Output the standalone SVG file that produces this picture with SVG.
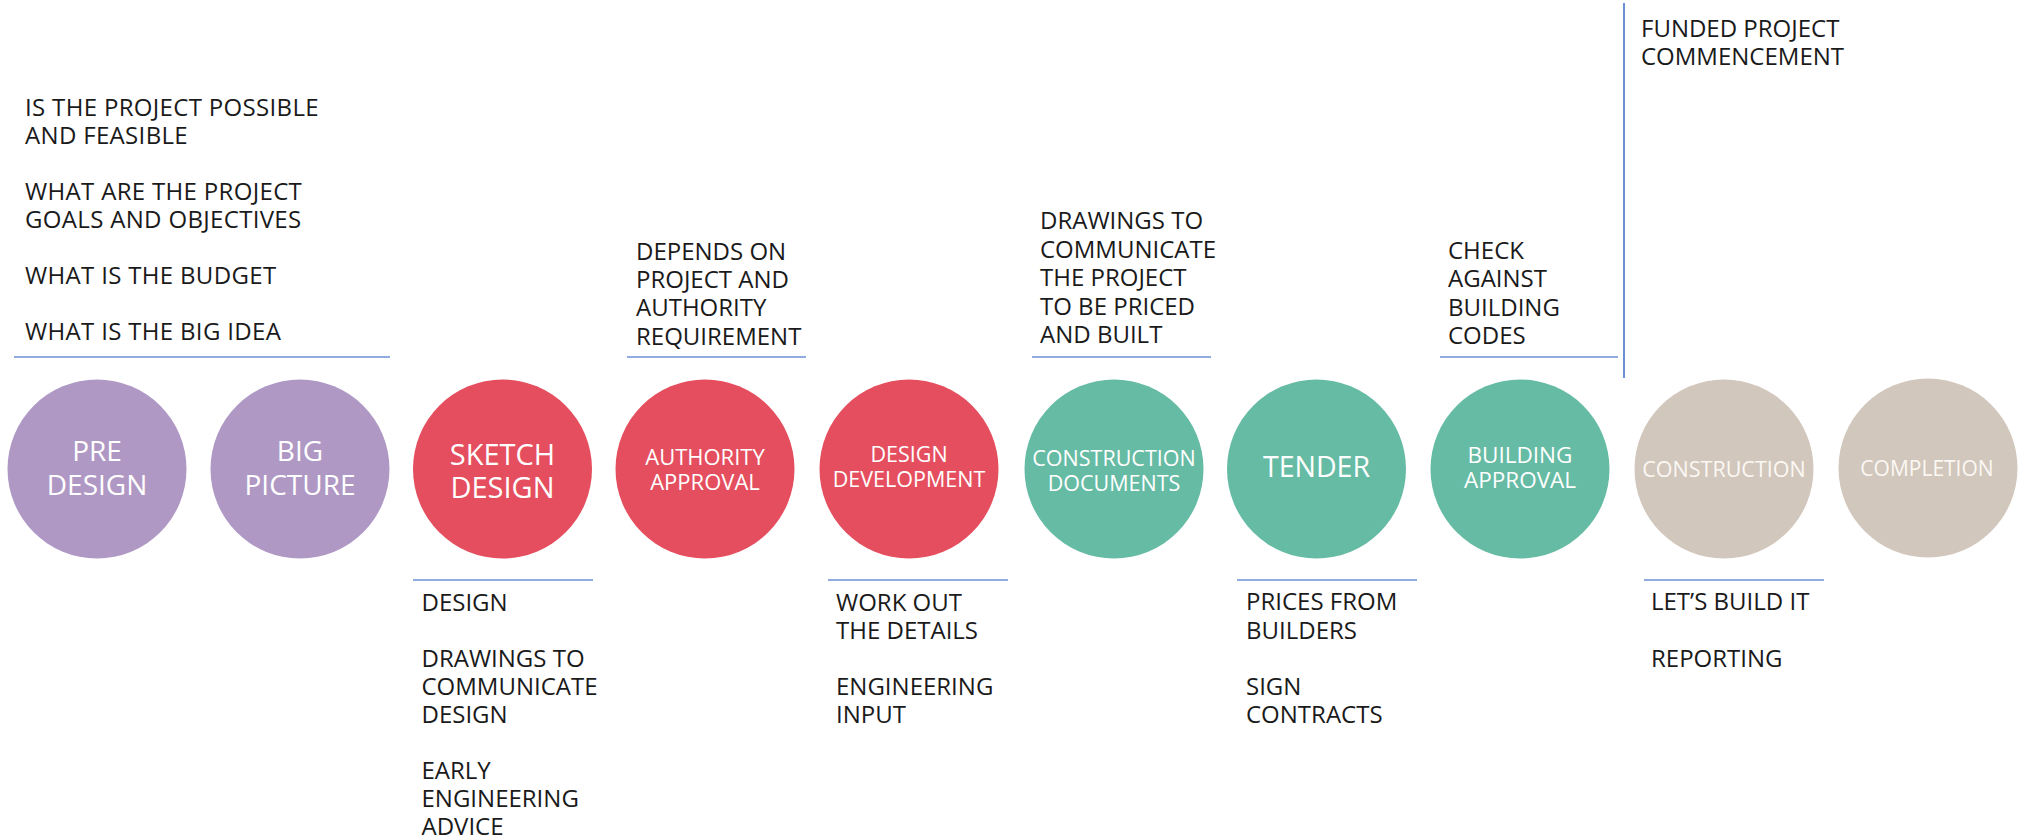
<svg xmlns="http://www.w3.org/2000/svg" width="2034" height="838" viewBox="0 0 2034 838">
<style>
.note{font-family:"Open Sans","Liberation Sans",sans-serif;font-size:24px;fill:#1a1a1a}
.wide{letter-spacing:0.33px}
.lbl{font-family:"Open Sans","Liberation Sans",sans-serif;fill:#ffffff;text-anchor:middle}
.lbl-t{fill:#fbf8f4}
.rule{stroke:#6b8fd6;stroke-width:1.6;fill:none}
.purple{fill:#b098c5}
.red{fill:#e54e5e}
.green{fill:#66bba4}
.tan{fill:#d2c7bc}
</style>
<rect width="2034" height="838" fill="#ffffff"/>
<g id="connectors">
<line class="rule" x1="14" y1="357" x2="390" y2="357"/>
<line class="rule" x1="627" y1="357" x2="806" y2="357"/>
<line class="rule" x1="1032" y1="357" x2="1211" y2="357"/>
<line class="rule" x1="1440" y1="357" x2="1618" y2="357"/>
<line class="rule" x1="1624" y1="3" x2="1624" y2="378" style="stroke-width:2"/>
<line class="rule" x1="413" y1="580" x2="593" y2="580"/>
<line class="rule" x1="828" y1="580" x2="1008" y2="580"/>
<line class="rule" x1="1237" y1="580" x2="1417" y2="580"/>
<line class="rule" x1="1644" y1="580" x2="1824" y2="580"/>
</g>
<g id="pre-design">
<circle class="purple" cx="97" cy="469" r="89.5"/>
<text class="lbl" font-size="28"><tspan x="97" y="461">PRE</tspan><tspan x="97" y="495">DESIGN</tspan></text>
</g>
<g id="big-picture">
<circle class="purple" cx="300" cy="469" r="89.5"/>
<text class="lbl" font-size="28"><tspan x="300" y="461">BIG</tspan><tspan x="300" y="495">PICTURE</tspan></text>
</g>
<g id="sketch-design">
<circle class="red" cx="502.5" cy="469" r="89.5"/>
<text class="lbl" font-size="29"><tspan x="502.5" y="465">SKETCH</tspan><tspan x="502.5" y="498">DESIGN</tspan></text>
</g>
<g id="authority-approval">
<circle class="red" cx="705" cy="469" r="89.5"/>
<text class="lbl" font-size="22"><tspan x="705" y="465">AUTHORITY</tspan><tspan x="705" y="490">APPROVAL</tspan></text>
</g>
<g id="design-development">
<circle class="red" cx="909" cy="469" r="89.5"/>
<text class="lbl" font-size="21.5"><tspan x="909" y="462">DESIGN</tspan><tspan x="909" y="487">DEVELOPMENT</tspan></text>
</g>
<g id="construction-documents">
<circle class="green" cx="1114" cy="469" r="89.5"/>
<text class="lbl" font-size="21.5"><tspan x="1114" y="466">CONSTRUCTION</tspan><tspan x="1114" y="491">DOCUMENTS</tspan></text>
</g>
<g id="tender">
<circle class="green" cx="1316.5" cy="469" r="89.5"/>
<text class="lbl" font-size="28.5" x="1316.5" y="477">TENDER</text>
</g>
<g id="building-approval">
<circle class="green" cx="1520" cy="469" r="89.5"/>
<text class="lbl" font-size="22.5"><tspan x="1520" y="463">BUILDING</tspan><tspan x="1520" y="488">APPROVAL</tspan></text>
</g>
<g id="construction">
<circle class="tan" cx="1724" cy="469" r="89.5"/>
<text class="lbl lbl-t" font-size="21.5" x="1724" y="477">CONSTRUCTION</text>
</g>
<g id="completion">
<circle class="tan" cx="1928" cy="468" r="89.5"/>
<text class="lbl lbl-t" font-size="21" x="1927" y="476">COMPLETION</text>
</g>
<g id="note-pre-design">
<text class="note wide"><tspan x="25" y="116">IS THE PROJECT POSSIBLE</tspan><tspan x="25" y="144">AND FEASIBLE</tspan><tspan x="25" y="200">WHAT ARE THE PROJECT</tspan><tspan x="25" y="228">GOALS AND OBJECTIVES</tspan><tspan x="25" y="284">WHAT IS THE BUDGET</tspan><tspan x="25" y="340">WHAT IS THE BIG IDEA</tspan></text>
</g>
<g id="note-authority">
<text class="note" font-size="23.5"><tspan x="636" y="259.5">DEPENDS ON</tspan><tspan x="636" y="287.8">PROJECT AND</tspan><tspan x="636" y="316.2">AUTHORITY</tspan><tspan x="636" y="344.5">REQUIREMENT</tspan></text>
</g>
<g id="note-construction-documents">
<text class="note" font-size="23.5"><tspan x="1040" y="229">DRAWINGS TO</tspan><tspan x="1040" y="257.5">COMMUNICATE</tspan><tspan x="1040" y="286">THE PROJECT</tspan><tspan x="1040" y="314.5">TO BE PRICED</tspan><tspan x="1040" y="343">AND BUILT</tspan></text>
</g>
<g id="note-building-approval">
<text class="note"><tspan x="1448" y="259">CHECK</tspan><tspan x="1448" y="287.3">AGAINST</tspan><tspan x="1448" y="315.6">BUILDING</tspan><tspan x="1448" y="344">CODES</tspan></text>
</g>
<g id="note-commencement">
<text class="note"><tspan x="1641" y="37">FUNDED PROJECT</tspan><tspan x="1641" y="65">COMMENCEMENT</tspan></text>
</g>
<g id="note-sketch-design">
<text class="note" font-size="23.5"><tspan x="421.5" y="611">DESIGN</tspan><tspan x="421.5" y="667">DRAWINGS TO</tspan><tspan x="421.5" y="695">COMMUNICATE</tspan><tspan x="421.5" y="723">DESIGN</tspan><tspan x="421.5" y="779">EARLY</tspan><tspan x="421.5" y="807">ENGINEERING</tspan><tspan x="421.5" y="835">ADVICE</tspan></text>
</g>
<g id="note-design-development">
<text class="note" font-size="23.5"><tspan x="836" y="611">WORK OUT</tspan><tspan x="836" y="639">THE DETAILS</tspan><tspan x="836" y="695">ENGINEERING</tspan><tspan x="836" y="723">INPUT</tspan></text>
</g>
<g id="note-tender">
<text class="note" font-size="23.5"><tspan x="1246" y="610">PRICES FROM</tspan><tspan x="1246" y="638.5">BUILDERS</tspan><tspan x="1246" y="695">SIGN</tspan><tspan x="1246" y="723">CONTRACTS</tspan></text>
</g>
<g id="note-construction">
<text class="note" font-size="23.5"><tspan x="1651" y="610">LET’S BUILD IT</tspan><tspan x="1651" y="667">REPORTING</tspan></text>
</g>
</svg>
